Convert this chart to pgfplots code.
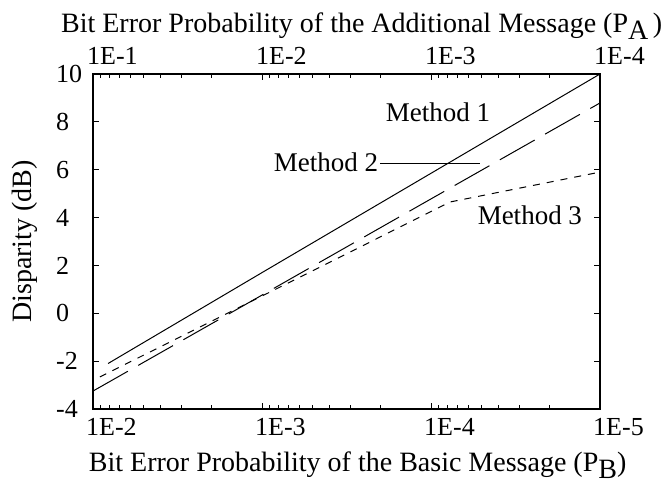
\documentclass[border=0pt]{standalone}
\usepackage{fontspec}
\setmainfont{Liberation Serif}
\usepackage{pgfplots}
\pgfplotsset{compat=1.18}

\begin{document}
\begin{tikzpicture}
\useasboundingbox (-93pt,-78pt) rectangle (577pt,409pt);
% bottom axis: basic message
\begin{axis}[
  at={(0pt,0pt)}, anchor=south west,
  scale only axis, width=507pt, height=335pt,
  xmode=log, x dir=reverse,
  xmin=1e-5, xmax=1e-2, ymin=-4, ymax=10,
  xtick={1e-2,1e-3,1e-4,1e-5},
  xticklabels={1E-2,1E-3,1E-4,1E-5},
  minor xtick={2e-5,3e-5,4e-5,5e-5,6e-5,7e-5,8e-5,9e-5,
               2e-4,3e-4,4e-4,5e-4,6e-4,7e-4,8e-4,9e-4,
               2e-3,3e-3,4e-3,5e-3,6e-3,7e-3,8e-3,9e-3},
  ytick={-4,-2,0,2,4,6,8,10},
  yticklabels={-4,-2,0,2,4,6,8,10},
  tick align=inside,
  major tick length=6pt, minor tick length=4pt,
  axis line style={line width=1.5pt},
  every tick/.style={black, line width=1pt},
  font=\fontsize{26}{30}\selectfont,
  xticklabel style={anchor=north west, inner sep=0pt, xshift=-7pt, yshift=-9pt},
  yticklabel style={anchor=west, inner sep=0pt, xshift=-37pt},
  xlabel={Bit Error Probability of the Basic Message (P\raisebox{-7pt}{B})},
  ylabel={Disparity (dB)},
  every axis x label/.style={at={(axis description cs:0.522,-0.188)}, anchor=base,
    font=\fontsize{28}{32}\selectfont},
  every axis y label/.style={at={(axis description cs:-0.134,0.5)}, rotate=90, anchor=center,
    font=\fontsize{28}{32}\selectfont},
]
% Method 1 (solid)
\addplot[black, line width=1pt] coordinates {
  (8.15e-3,-2.10) (1e-3,1.70) (1e-4,5.85) (1e-5,10.0)
};
% Method 2 (long dashes)
\addplot[black, line width=1pt, dash pattern=on 40pt off 12pt] coordinates {
  (1e-2,-3.25) (1e-3,0.76) (1e-4,4.78) (1e-5,8.79)
};
% Method 3 (short dashes)
\addplot[black, line width=1pt, dash pattern=on 7pt off 7pt] coordinates {
  (9.1e-3,-2.66) (1e-3,0.72) (3.01e-4,2.56) (7.73e-5,4.65) (1e-5,5.90)
};
\node[font=\fontsize{27}{30}\selectfont] at (axis cs:9.1e-5,8.41) {Method 1};
\node[font=\fontsize{27}{30}\selectfont] at (axis cs:4.18e-4,6.32) {Method 2};
\node[font=\fontsize{27}{30}\selectfont] at (axis cs:2.6e-5,4.11) {Method 3};
\draw[line width=1pt] (axis cs:2.0e-4,6.28) -- (axis cs:5.13e-5,6.28);
\end{axis}
% top axis: additional message
\begin{axis}[
  at={(0pt,0pt)}, anchor=south west,
  scale only axis, width=507pt, height=335pt,
  xmode=log, x dir=reverse,
  xmin=1e-4, xmax=1e-1, ymin=-4, ymax=10,
  axis x line*=top, axis y line=none,
  x axis line style={-, line width=1.5pt},
  xtick={1e-1,1e-2,1e-3,1e-4},
  xticklabels={1E-1,1E-2,1E-3,1E-4},
  minor xtick={2e-4,3e-4,4e-4,5e-4,6e-4,7e-4,8e-4,9e-4,
               2e-3,3e-3,4e-3,5e-3,6e-3,7e-3,8e-3,9e-3,
               2e-2,3e-2,4e-2,5e-2,6e-2,7e-2,8e-2,9e-2},
  tick align=inside,
  major tick length=6pt, minor tick length=4pt,
  every tick/.style={black, line width=1pt},
  font=\fontsize{26}{30}\selectfont,
  xticklabel style={anchor=south west, inner sep=0pt, xshift=-6pt, yshift=9pt},
  xlabel={Bit Error Probability of the Additional Message (P\raisebox{-7pt}{A}\,)},
  every axis x label/.style={at={(axis description cs:0.53,1.1224)}, anchor=base,
    font=\fontsize{28}{32}\selectfont},
]
\end{axis}
\end{tikzpicture}
\end{document}
